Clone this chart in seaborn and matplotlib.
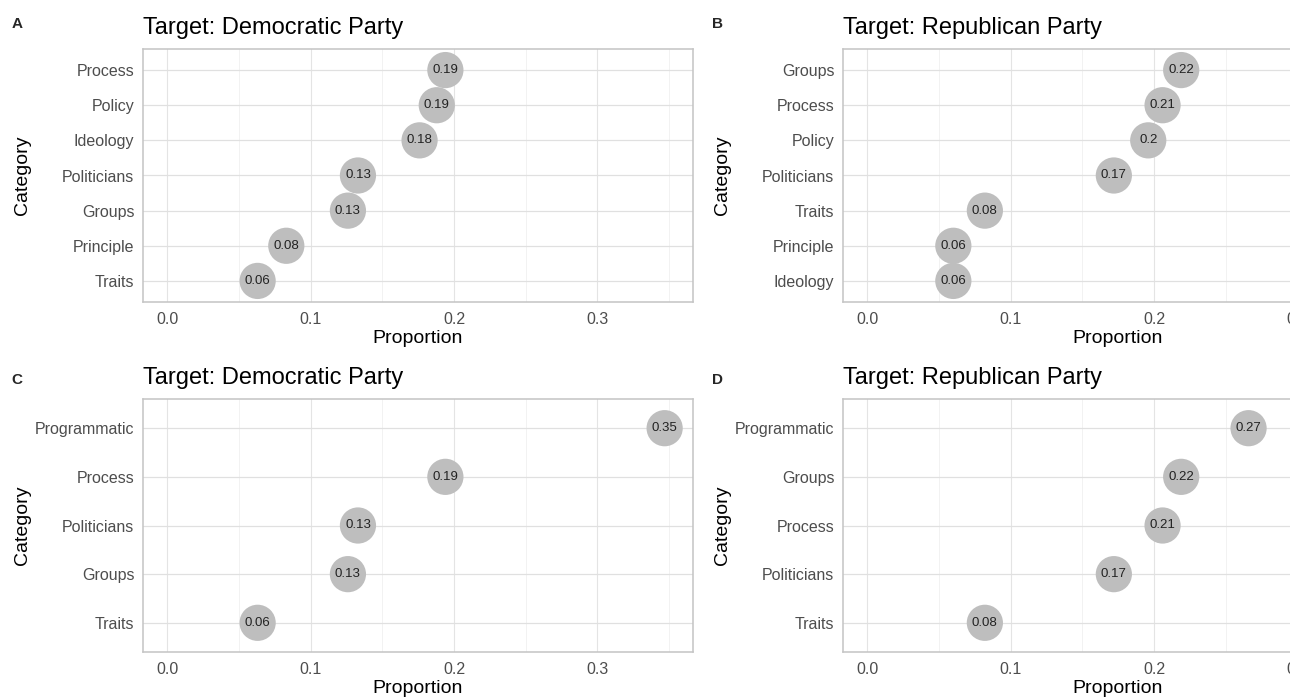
import matplotlib
matplotlib.use("Agg")
import matplotlib.pyplot as plt
import seaborn as sns
import pandas as pd
from matplotlib.ticker import MultipleLocator

# ---- data ----
dem_top_cats = ["Process", "Policy", "Ideology", "Politicians", "Groups", "Principle", "Traits"]
dem_top_vals = [0.194, 0.188, 0.176, 0.133, 0.126, 0.083, 0.063]
rep_top_cats = ["Groups", "Process", "Policy", "Politicians", "Traits", "Principle", "Ideology"]
rep_top_vals = [0.219, 0.206, 0.196, 0.172, 0.082, 0.060, 0.060]
dem_bot_cats = ["Programmatic", "Process", "Politicians", "Groups", "Traits"]
dem_bot_vals = [0.347, 0.194, 0.133, 0.126, 0.063]
rep_bot_cats = ["Programmatic", "Groups", "Process", "Politicians", "Traits"]
rep_bot_vals = [0.266, 0.219, 0.206, 0.172, 0.082]

panel_letters = ["A", "B", "C", "D"]
panel_titles = ["Target: Democratic Party", "Target: Republican Party",
                "Target: Democratic Party", "Target: Republican Party"]
x_ticks = [0.0, 0.1, 0.2, 0.3]
x_label = "Proportion"
y_label = "Category"

sns.set_style("white")
plt.rcParams["font.family"] = ["Liberation Sans", "DejaVu Sans"]

W, H = 1290, 699
fig = plt.figure(figsize=(W / 100, H / 100), dpi=100)

ax_w = 550.6
rows = [(49, 302), (399, 652)]
cols = [142.7, 842.7]

panels = [
    (dem_top_cats, dem_top_vals),
    (rep_top_cats, rep_top_vals),
    (dem_bot_cats, dem_bot_vals),
    (rep_bot_cats, rep_bot_vals),
]

for i, (cats, vals) in enumerate(panels):
    r, c = divmod(i, 2)
    top, bot = rows[r]
    left = cols[c]
    ax = fig.add_axes([left / W, 1 - bot / H, ax_w / W, (bot - top) / H])
    df = pd.DataFrame({"Category": cats, "Proportion": vals})
    n = len(cats)
    ypos = list(range(n))
    df["ypos"] = ypos

    ax.set_xlim(-0.0172, 0.367)
    ax.xaxis.set_minor_locator(MultipleLocator(0.05))
    ax.set_xticks(x_ticks)
    ax.set_xticklabels([f"{t:.1f}" for t in x_ticks])
    ax.grid(which="major", axis="x", color="#E4E4E4", linewidth=0.8)
    ax.grid(which="minor", axis="x", color="#F0F0F0", linewidth=0.6)
    ax.grid(which="major", axis="y", color="#E0E0E0", linewidth=0.9)
    ax.set_axisbelow(True)

    sns.scatterplot(data=df, x="Proportion", y="ypos", ax=ax, s=680,
                    color="#BEBEBE", edgecolor="none", linewidth=0,
                    legend=False, zorder=3, clip_on=False)
    for v, y in zip(vals, ypos):
        ax.text(v, y, f"{round(v, 2):g}", ha="center", va="center",
                fontsize=9.5, color="#222222", zorder=4)

    ax.set_yticks(ypos)
    ax.set_yticklabels(cats)
    ax.set_ylim(n - 1 + 0.6, -0.6)

    for sp in ax.spines.values():
        sp.set_color("#C4C4C4")
        sp.set_linewidth(1.1)
    ax.tick_params(axis="both", which="major", length=3.5, width=0.8,
                   color="#B3B3B3", labelcolor="#4D4D4D", labelsize=11.5, pad=2.5)
    ax.tick_params(axis="both", which="minor", length=0)
    ax.tick_params(axis="x", pad=4)
    ax.set_xlabel(x_label, fontsize=14, color="black", labelpad=2)
    ax.set_ylabel(y_label, fontsize=14, color="black")
    ax.yaxis.set_label_coords((31 - 142.7) / ax_w, 0.5)
    ax.set_title(panel_titles[i], loc="left", fontsize=17, color="black", pad=11)

    letter_x = 17 if c == 0 else 717
    letter_y = 24 if r == 0 else 380
    fig.text(letter_x / W, 1 - letter_y / H, panel_letters[i], fontsize=11,
             fontweight="bold", ha="center", va="center")

fig.savefig("out.png", dpi=100)
